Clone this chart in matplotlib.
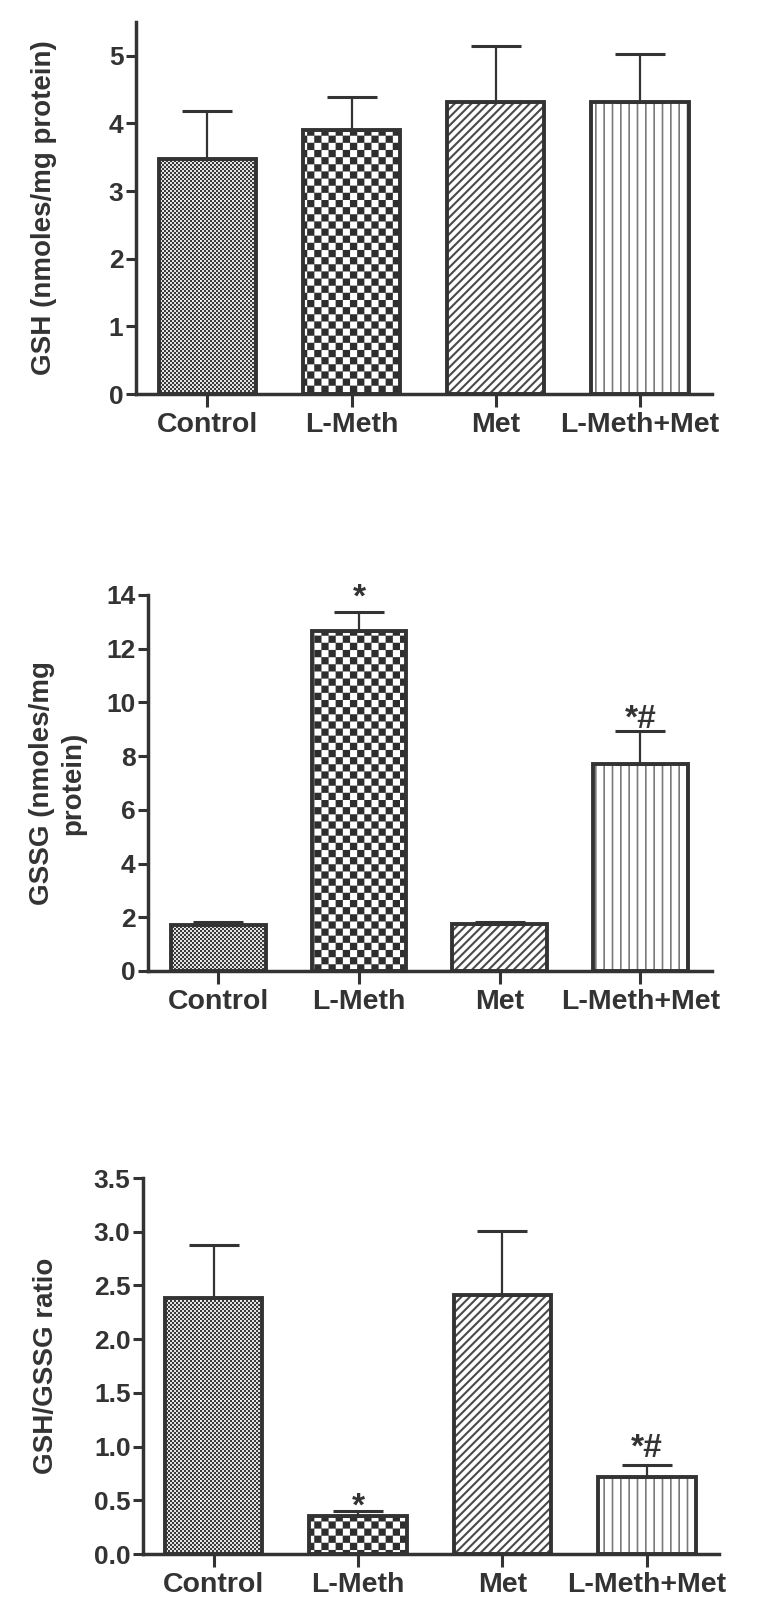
import numpy as np
import matplotlib
matplotlib.use('Agg')
import matplotlib.pyplot as plt
import matplotlib.hatch as mhatch
from matplotlib.path import Path
from matplotlib.ticker import FormatStrFormatter

##########
# Data
##########

groups = ['Control', 'L-Meth', 'Met', 'L-Meth+Met']

gsh_mean = [3.47, 3.91, 4.31, 4.31]
gsh_err = [0.71, 0.48, 0.83, 0.71]

gssg_mean = [1.70, 12.65, 1.74, 7.72]
gssg_err = [0.13, 0.72, 0.09, 1.23]
gssg_marks = ['', '*', '', '*#']

ratio_mean = [2.38, 0.35, 2.41, 0.72]
ratio_err = [0.50, 0.05, 0.60, 0.11]
ratio_marks = ['', '*', '', '*#']


##########
# Checkerboard hatch ('c' = 2 cells per inch)
##########

class CheckerHatch(mhatch.HatchPatternBase):
    def __init__(self, hatch, density):
        self.n = hatch.count('c') * 2
        self.num_vertices = (self.n * self.n // 2) * 5

    def set_vertices_and_codes(self, vertices, codes):
        n = self.n
        s = 1.0 / n
        sq = np.array([[0, 0], [s, 0], [s, s], [0, s], [0, 0]], dtype=float)
        cd = [Path.MOVETO, Path.LINETO, Path.LINETO, Path.LINETO, Path.CLOSEPOLY]
        k = 0
        for i in range(n):
            for j in range(n):
                if (i + j) % 2 == 0:
                    vertices[k:k + 5] = sq + [i * s, j * s]
                    codes[k:k + 5] = cd
                    k += 5

    get_vertices_and_codes = set_vertices_and_codes


mhatch._hatch_types.append(CheckerHatch)
if hasattr(mhatch, '_validate_hatch_pattern'):
    mhatch._validate_hatch_pattern = lambda hatch: None


def set_hatch_lw(patch, lw):
    if hasattr(patch, 'set_hatch_linewidth'):
        patch.set_hatch_linewidth(lw)
    else:
        orig = patch.draw

        def draw(renderer, _orig=orig, _lw=lw):
            with plt.rc_context({'hatch.linewidth': _lw}):
                _orig(renderer)
        patch.draw = draw


##########
# Style
##########

DARK = '#333333'
plt.rcParams['font.family'] = ['Liberation Sans', 'DejaVu Sans']
plt.rcParams['font.weight'] = 'bold'
plt.rcParams['text.color'] = DARK
plt.rcParams['axes.labelcolor'] = DARK
plt.rcParams['axes.labelweight'] = 'bold'

# hatch pattern, hatch colour, hatch line width for each group
fills = [('c' * 25, '#3a3a3a', 0.1),
         ('c' * 7, '#2e2e2e', 0.1),
         ('////', '#4a4a4a', 1.5),
         ('||', '#7a7a7a', 1.2)]

fig = plt.figure(figsize=(7.62, 16.22), dpi=100)
W, H = 762.0, 1622.0


def panel(box, means, errs, ylabel, ylim, yticks, xlim, marks=None, offsets=None,
          fmt=None, label_x=-0.16):
    left, top, right, bottom = box
    ax = fig.add_axes([left / W, 1 - bottom / H, (right - left) / W, (bottom - top) / H])
    x = np.arange(len(groups))
    for i, (h, hc, hlw) in enumerate(fills):
        b = ax.bar(x[i], means[i], width=0.675, color='white', edgecolor=hc,
                   linewidth=0, hatch=h, zorder=2)
        set_hatch_lw(b[0], hlw)
    ax.bar(x, means, width=0.675, fill=False, edgecolor=DARK, linewidth=2.8, zorder=3)
    ax.errorbar(x, means, yerr=[np.zeros(len(x)), errs], fmt='none', ecolor=DARK,
                elinewidth=1.6, capsize=18, capthick=2.2, zorder=4)
    ax.set_xlim(*xlim)
    ax.set_ylim(*ylim)
    ax.set_yticks(yticks)
    if fmt:
        ax.yaxis.set_major_formatter(FormatStrFormatter(fmt))
    ax.set_xticks(x, groups)
    for s in ['top', 'right']:
        ax.spines[s].set_visible(False)
    for s in ['left', 'bottom']:
        ax.spines[s].set_linewidth(2.5)
        ax.spines[s].set_color(DARK)
    ax.tick_params(axis='y', length=7, width=2.2, color=DARK, labelsize=19, pad=2,
                   labelcolor=DARK)
    ax.tick_params(axis='x', length=9, width=2.2, color=DARK, labelsize=20.5, pad=4,
                   labelcolor=DARK)
    ax.set_ylabel(ylabel, fontsize=20, fontweight='bold', va='center',
                  linespacing=1.25)
    ax.yaxis.set_label_coords(label_x, 0.5)
    if marks:
        for i, m in enumerate(marks):
            if m:
                ax.annotate(m, (x[i], means[i] + errs[i]), xytext=(0, offsets[i]),
                            textcoords='offset points', ha='center', va='baseline',
                            fontsize=24, fontweight='bold', color=DARK,
                            annotation_clip=False)
    return ax


panel((136, 22, 712, 394), gsh_mean, gsh_err, 'GSH (nmoles/mg protein)',
      (0, 5.5), [0, 1, 2, 3, 4, 5], (-0.495, 3.5), label_x=-0.160)

panel((148, 595, 712, 971), gssg_mean, gssg_err, 'GSSG (nmoles/mg\nprotein)',
      (0, 14), [0, 2, 4, 6, 8, 10, 12, 14], (-0.5, 3.51),
      marks=gssg_marks, offsets=[0, 4, 0, 2], label_x=-0.160)

panel((143, 1178, 719, 1554), ratio_mean, ratio_err, 'GSH/GSSG ratio',
      (0, 3.5), [0, 0.5, 1.0, 1.5, 2.0, 2.5, 3.0, 3.5], (-0.49, 3.5),
      marks=ratio_marks, offsets=[0, -3, 0, 6], fmt='%.1f', label_x=-0.168)

fig.savefig('out.png', dpi=100, facecolor='white')
